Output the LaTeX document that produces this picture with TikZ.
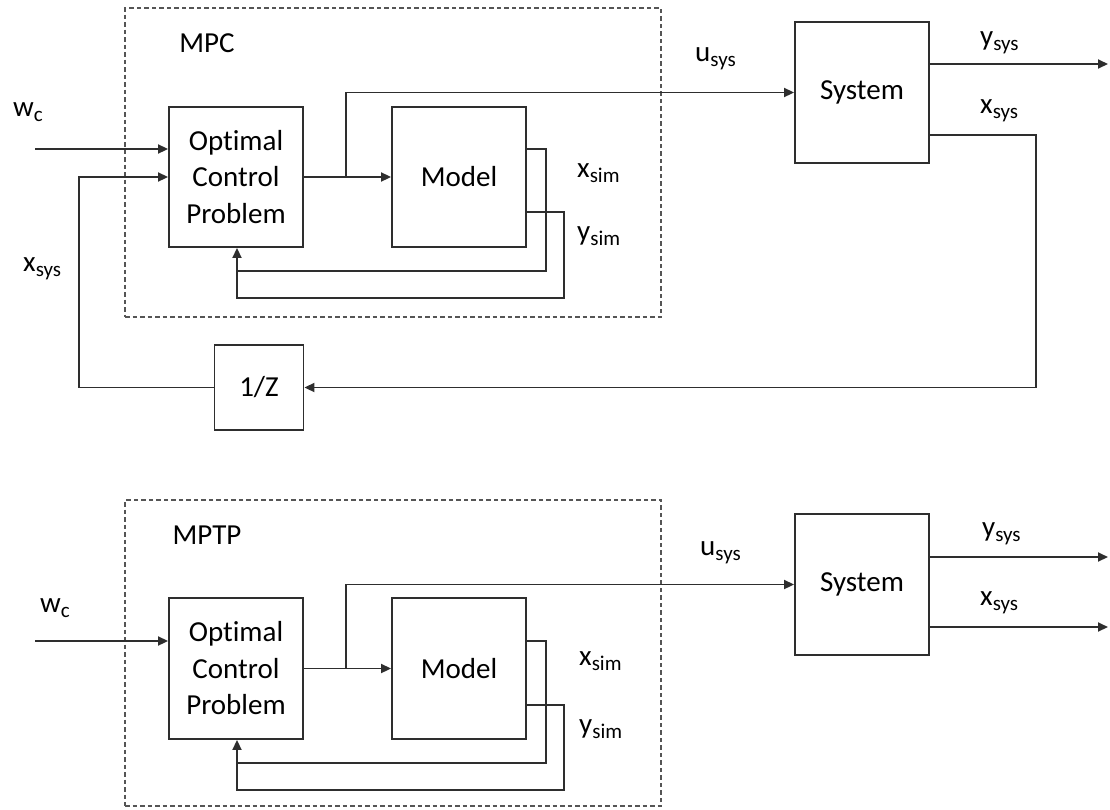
\documentclass[tikz,border=0pt]{standalone}
\usepackage{fontspec}
\setmainfont{Carlito}[Ligatures=NoCommon]
\usetikzlibrary{arrows.meta}
\definecolor{linec}{HTML}{2E2E2E}
\definecolor{dashc}{HTML}{555555}
\newcommand{\sbs}[1]{\raisebox{-5pt}{\fontsize{21}{21}\selectfont #1}}
\tikzset{
  blk/.style={draw=linec, line width=1.9pt, minimum width=134pt, minimum height=140pt, inner sep=0pt, align=center, font=\fontsize{29}{36.5}\selectfont},
  dbox/.style={draw=dashc, line width=1.6pt, dash pattern=on 4.5pt off 3pt, minimum width=536pt, inner sep=0pt},
  conn/.style={draw=linec, line width=1.9pt},
  arr/.style={conn, -{Triangle[length=10pt,width=9pt]}},
  lbl/.style={inner sep=0pt, anchor=base west, font=\fontsize{29}{30}\selectfont},
  ttl/.style={inner sep=0pt, font=\fontsize{29}{30}\selectfont}
}
\begin{document}
\begin{tikzpicture}[x=1pt,y=-1pt]
\useasboundingbox (0,0) rectangle (1110,809);
% ---------------- top diagram ----------------
\node[dbox, minimum height=309pt] (mpc) at (393,162.5) {};
\node[ttl] (mpclbl) at (207,43) {MPC};
\node[blk] (ocp1) at (236,177) {Optimal\\Control\\Problem};
\node[blk] (mod1) at (459,177) {Model};
\node[blk, minimum height=141pt] (sys1) at (862,92.5) {System};
\node[blk, minimum width=89pt, minimum height=85pt] (z1) at (259,387.5) {1/Z};

\coordinate (wc1in) at (35,149);
\coordinate (br1) at (346,177);
\coordinate (ys1out) at (1108,64);
\coordinate (xs1r) at (1036,135);
\coordinate (fbx) at (79,387.5);
\coordinate (m1o1) at (546,149);
\coordinate (m1o2) at (564,212);
\coordinate (fb1a) at (237,271);
\coordinate (fb1b) at (237,298);

\draw[arr] (wc1in) -- (wc1in -| ocp1.west);
\draw[arr] (z1.west) -- (fbx) |- (ocp1.west);
\draw[arr] (ocp1.east) -- (mod1.west);
\draw[arr] (br1) |- (sys1.west);
\draw[arr] (sys1.east |- ys1out) -- (ys1out);
\draw[arr] (sys1.east |- xs1r) -- (xs1r) |- (z1.east);
\draw[conn] (mod1.east |- m1o1) -- (m1o1) |- (fb1a);
\draw[conn] (mod1.east |- m1o2) -- (m1o2) |- (fb1b) -- (fb1a);
\draw[arr] (fb1a) -- (ocp1.south -| fb1a);

\node[lbl] (wc1) at (13,116) {w\sbs{c}};
\node[lbl] (xsl1) at (23,271) {x\sbs{sys}};
\node[lbl] (xsim1) at (577,177) {x\sbs{sim}};
\node[lbl] (ysim1) at (577,240) {y\sbs{sim}};
\node[lbl] (us1) at (695,61) {u\sbs{sys}};
\node[lbl] (ysr1) at (980,45) {y\sbs{sys}};
\node[lbl] (xsr1) at (980,113) {x\sbs{sys}};

% ---------------- bottom diagram ----------------
\node[dbox, minimum height=306pt] (mptp) at (393,653) {};
\node[ttl] (mptplbl) at (207,535) {MPTP};
\node[blk, minimum height=141pt] (ocp2) at (236,668.5) {Optimal\\Control\\Problem};
\node[blk, minimum height=141pt] (mod2) at (459,668.5) {Model};
\node[blk, minimum height=141pt] (sys2) at (862,584.5) {System};

\coordinate (wc2in) at (35,641);
\coordinate (br2) at (346,668.5);
\coordinate (ys2out) at (1108,557);
\coordinate (xs2out) at (1108,627);
\coordinate (m2o1) at (546,641);
\coordinate (m2o2) at (564,705);
\coordinate (fb2a) at (237,763);
\coordinate (fb2b) at (237,790);

\draw[arr] (wc2in) -- (wc2in -| ocp2.west);
\draw[arr] (ocp2.east) -- (mod2.west);
\draw[arr] (br2) |- (sys2.west);
\draw[arr] (sys2.east |- ys2out) -- (ys2out);
\draw[arr] (sys2.east |- xs2out) -- (xs2out);
\draw[conn] (mod2.east |- m2o1) -- (m2o1) |- (fb2a);
\draw[conn] (mod2.east |- m2o2) -- (m2o2) |- (fb2b) -- (fb2a);
\draw[arr] (fb2a) -- (ocp2.south -| fb2a);

\node[lbl] (wc2) at (40,612) {w\sbs{c}};
\node[lbl] (xsim2) at (579,665) {x\sbs{sim}};
\node[lbl] (ysim2) at (579,733) {y\sbs{sim}};
\node[lbl] (us2) at (700,555) {u\sbs{sys}};
\node[lbl] (ysr2) at (982,536) {y\sbs{sys}};
\node[lbl] (xsr2) at (980,605) {x\sbs{sys}};
\end{tikzpicture}
\end{document}
